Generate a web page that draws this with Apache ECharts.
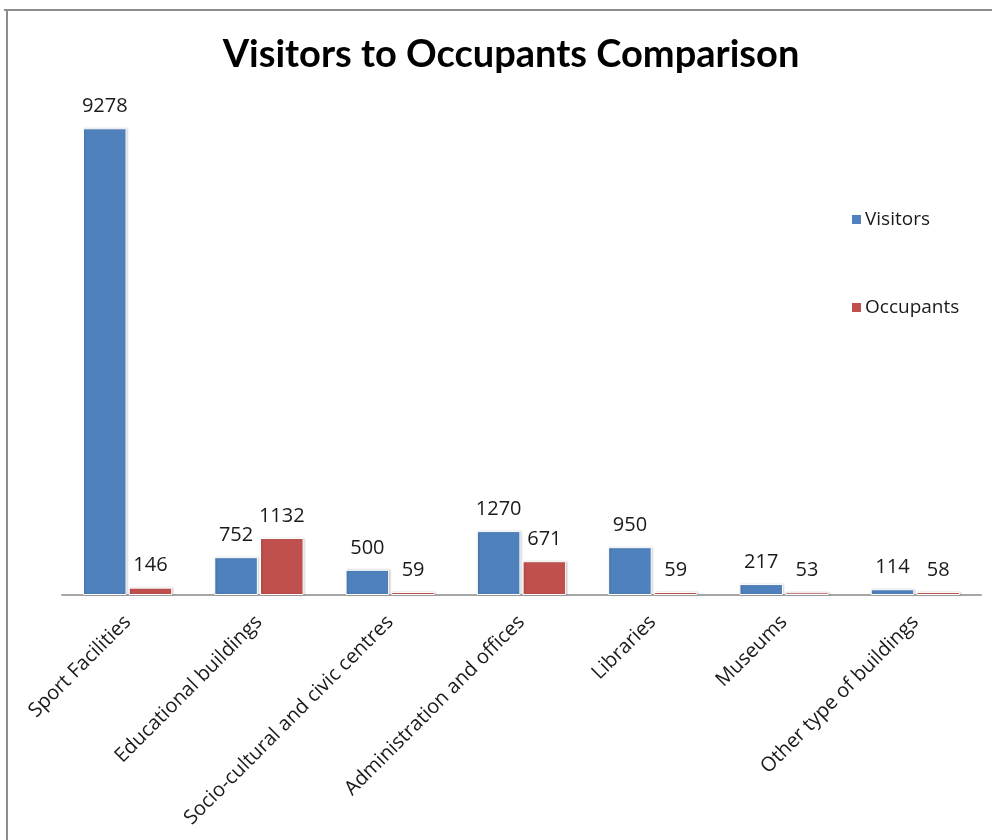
<!DOCTYPE html>
<html>
<head>
<meta charset="utf-8">
<script src="https://cdn.jsdelivr.net/npm/echarts@6/dist/echarts.min.js"></script>
<style>
  html, body { margin: 0; padding: 0; background: #ffffff; }
  #chart { width: 992px; height: 840px; }
</style>
</head>
<body>
<div id="chart"></div>
<script>
// Building categories and per-category counts
const categories = [
  'Sport Facilities',
  'Educational buildings',
  'Socio-cultural and civic centres',
  'Administration and offices',
  'Libraries',
  'Museums',
  'Other type of buildings'
];
const visitors = [9278, 752, 500, 1270, 950, 217, 114];
const occupants = [146, 1132, 59, 671, 59, 53, 58];

const FONT = '"Open Sans", "DejaVu Sans", sans-serif';

const chart = echarts.init(document.getElementById('chart'));

const barStyle = (color) => ({
  color: color,
  borderColor: '#ffffff',
  borderWidth: 1,
  shadowColor: 'rgba(0,0,0,0.18)',
  shadowBlur: 2,
  shadowOffsetX: 1,
  shadowOffsetY: 0
});

const labelStyle = {
  show: true,
  position: 'top',
  distance: 12,
  color: '#1a1a1a',
  fontFamily: FONT,
  fontSize: 20
};

chart.setOption({
  backgroundColor: '#ffffff',
  animation: false,
  title: {
    text: 'Visitors to Occupants Comparison',
    left: 506,
    textAlign: 'center',
    top: 31,
    textStyle: {
      fontFamily: '"Lato", "Open Sans", sans-serif',
      fontWeight: 'bold',
      fontSize: 38,
      color: '#000000'
    }
  },
  legend: {
    orient: 'vertical',
    left: 845,
    top: 205,
    itemWidth: 11,
    itemHeight: 11,
    itemGap: 69,
    icon: 'rect',
    textStyle: { fontFamily: FONT, fontSize: 19, color: '#1a1a1a', padding: [0, 0, 0, -2] },
    data: ['Visitors', 'Occupants']
  },
  grid: {
    left: 62,
    right: 11,
    top: 92,
    bottom: 245,
    containLabel: false
  },
  xAxis: {
    type: 'category',
    data: categories,
    axisLine: { lineStyle: { color: '#a6a6a6', width: 2 } },
    axisTick: { show: false },
    axisLabel: {
      rotate: 45,
      interval: 0,
      margin: 24,
      fontFamily: FONT,
      fontSize: 20,
      color: '#1a1a1a'
    }
  },
  yAxis: {
    type: 'value',
    min: 0,
    max: 10000,
    show: false,
    splitLine: { show: false }
  },
  graphic: [
    {
      type: 'line',
      shape: { x1: 4, y1: 10, x2: 992, y2: 10 },
      style: { stroke: '#8c8c8c', lineWidth: 2 }
    },
    {
      type: 'line',
      shape: { x1: 7, y1: 10, x2: 7, y2: 840 },
      style: { stroke: '#8c8c8c', lineWidth: 2 }
    }
  ],
  series: [
    {
      name: 'Visitors',
      type: 'bar',
      data: visitors,
      barGap: '5%',
      barCategoryGap: '32%',
      itemStyle: barStyle('#4F81BD'),
      label: labelStyle
    },
    {
      name: 'Occupants',
      type: 'bar',
      data: occupants,
      itemStyle: barStyle('#C0504D'),
      label: labelStyle
    }
  ]
});
</script>
</body>
</html>
